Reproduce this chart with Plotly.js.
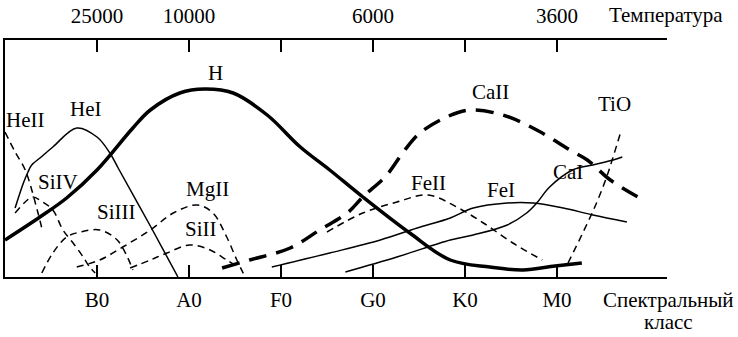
<!DOCTYPE html>
<html>
<head>
<meta charset="utf-8">
<script src="https://cdn.plot.ly/plotly-3.0.1.min.js"></script>
<style>
  html, body { margin: 0; padding: 0; background: #fff; }
  #plot { width: 738px; height: 337px; }
</style>
</head>
<body>
<div id="plot"></div>
<script>
// Спектральные классы (0 = O0, 1 = B0 ... 6 = M0) и температуры
const classVals = [1, 2, 3, 4, 5, 6];
const classText = ["B0", "A0", "F0", "G0", "K0", "M0"];
const tempText = ["25000", "10000", "", "6000", "", "3600"];

// Интенсивность линий (условные единицы)
const hX = [0.00, 0.38, 0.67, 1.00, 1.39, 1.58, 1.90, 2.17, 2.48, 2.85, 3.21, 3.53, 3.89, 4.40, 4.84, 5.27, 5.63, 5.98, 6.27];
const hY = [37, 60, 79, 107, 149, 167, 184, 188, 184, 162, 130, 107, 80, 44, 17, 10, 7, 11, 14];

const heIX = [0.11, 0.20, 0.25, 0.29, 0.38, 0.52, 0.78, 1.00, 1.14, 1.23, 1.58, 1.88];
const heIY = [69, 94, 105, 112, 119, 130, 149, 140, 124, 109, 51, 0];

const heIIX = [0.00, 0.11, 0.22, 0.35, 0.41];
const heIIY = [145, 125, 107, 67, 45];

const siIVX = [0.11, 0.22, 0.30, 0.41, 0.52, 0.63, 0.74, 0.85, 0.92, 0.98];
const siIVY = [64, 75, 80, 75, 67, 47, 34, 20, 10, 4];

const siIIIX = [0.40, 0.52, 0.67, 0.82, 1.03, 1.22, 1.33, 1.39];
const siIIIY = [4, 24, 40, 45, 47, 37, 20, 7];

const mgIIX = [0.78, 1.03, 1.28, 1.58, 1.83, 2.09, 2.26, 2.41, 2.52, 2.61];
const mgIIY = [10, 17, 30, 47, 64, 72, 64, 40, 17, 0];

const siIIX = [1.36, 1.58, 1.76, 2.01, 2.23, 2.41, 2.55];
const siIIY = [9, 17, 24, 32, 27, 17, 9];

const caIIX = [2.36, 2.66, 3.10, 3.42, 3.72, 3.89, 4.15, 4.33, 4.51, 4.80, 5.05, 5.41, 5.78, 6.14, 6.33, 6.58, 6.90];
const caIIY = [9, 17, 29, 47, 64, 80, 102, 125, 144, 160, 167, 162, 147, 127, 117, 97, 79];

const feIIX = [3.50, 3.89, 4.26, 4.60, 4.91, 5.20, 5.52, 5.84];
const feIIY = [45, 64, 75, 82, 70, 54, 34, 17];

const feIX = [2.90, 3.53, 4.08, 4.48, 4.84, 5.09, 5.46, 5.74, 6.07, 6.39, 6.76];
const feIY = [10, 24, 37, 49, 59, 69, 74, 74, 69, 62, 55];

const caIX = [3.70, 4.26, 4.84, 5.09, 5.46, 5.67, 5.78, 5.92, 6.17, 6.39, 6.61, 6.71];
const caIY = [5, 20, 37, 42, 52, 64, 74, 90, 107, 112, 117, 120];

const tiOX = [6.12, 6.28, 6.43, 6.54, 6.61, 6.70];
const tiOY = [14, 44, 74, 100, 120, 147];

// Подписи линий
const labelText = ["HeII", "HeI", "H", "SiIV", "SiIII", "MgII", "SiII", "CaII", "TiO", "FeII", "FeI", "CaI"];
const labelX = [0.22, 0.88, 2.29, 0.58, 1.21, 2.20, 2.13, 5.28, 6.63, 4.60, 5.39, 6.12];
const labelY = [157, 168, 204, 95, 65, 88, 48, 185, 173, 94, 87, 105];

const FONT = "'Liberation Serif', 'Times New Roman', serif";

function curve(x, y, width, dash) {
  return {
    x: x,
    y: y,
    mode: "lines",
    line: { color: "black", width: width, dash: dash, shape: "spline", smoothing: 1 },
    hoverinfo: "skip",
  };
}

const thinDash = "7px,5px";
const data = [
  curve(heIIX, heIIY, 1.5, thinDash),
  curve(siIVX, siIVY, 1.5, thinDash),
  curve(siIIIX, siIIIY, 1.5, thinDash),
  curve(mgIIX, mgIIY, 1.5, thinDash),
  curve(siIIX, siIIY, 1.5, thinDash),
  curve(feIIX, feIIY, 1.5, thinDash),
  curve(tiOX, tiOY, 1.5, thinDash),
  curve(heIX, heIY, 1.5, "solid"),
  curve(feIX, feIY, 1.5, "solid"),
  curve(caIX, caIY, 1.5, "solid"),
  curve(hX, hY, 3.5, "solid"),
  curve(caIIX, caIIY, 3.5, "18px,10px"),
  // пустая линия для верхней оси температур
  { x: [], y: [], xaxis: "x2", mode: "lines", hoverinfo: "skip" },
];

const textFont = { family: FONT, size: 21, color: "black" };

const annotations = labelText.map((t, k) => ({
  text: t,
  x: labelX[k],
  y: labelY[k],
  xref: "x",
  yref: "y",
  showarrow: false,
  font: textFont,
}));

// Подписи осей (в долях области графика: 0..1 = 5..667 px по x, 277..40 px по y)
annotations.push(
  { text: "Температура", x: 0.998, y: 1.105, xref: "paper", yref: "paper",
    xanchor: "center", yanchor: "middle", showarrow: false, font: textFont },
  { text: "Спектральный", x: 1.003, y: -0.097, xref: "paper", yref: "paper",
    xanchor: "center", yanchor: "middle", showarrow: false, font: textFont },
  { text: "класс", x: 1.003, y: -0.19, xref: "paper", yref: "paper",
    xanchor: "center", yanchor: "middle", showarrow: false, font: textFont }
);

const axisCommon = {
  range: [0, 7.196],
  showline: true,
  linecolor: "black",
  linewidth: 2,
  ticks: "inside",
  ticklen: 12,
  tickwidth: 2,
  tickcolor: "black",
  tickvals: classVals,
  showgrid: false,
  zeroline: false,
  tickfont: textFont,
  fixedrange: true,
};

const layout = {
  width: 738,
  height: 337,
  margin: { l: 5, r: 71, t: 40, b: 60 },
  paper_bgcolor: "white",
  plot_bgcolor: "white",
  font: textFont,
  showlegend: false,
  xaxis: Object.assign({}, axisCommon, { ticktext: classText, ticklabelstandoff: 3 }),
  xaxis2: Object.assign({}, axisCommon, {
    ticktext: tempText,
    overlaying: "x",
    side: "top",
    ticklabelstandoff: 7,
  }),
  yaxis: {
    range: [0, 237],
    showline: true,
    linecolor: "black",
    linewidth: 2,
    ticks: "",
    showticklabels: false,
    showgrid: false,
    zeroline: false,
    fixedrange: true,
  },
  annotations: annotations,
};

Plotly.newPlot("plot", data, layout, { displayModeBar: false, staticPlot: true });
</script>
</body>
</html>
